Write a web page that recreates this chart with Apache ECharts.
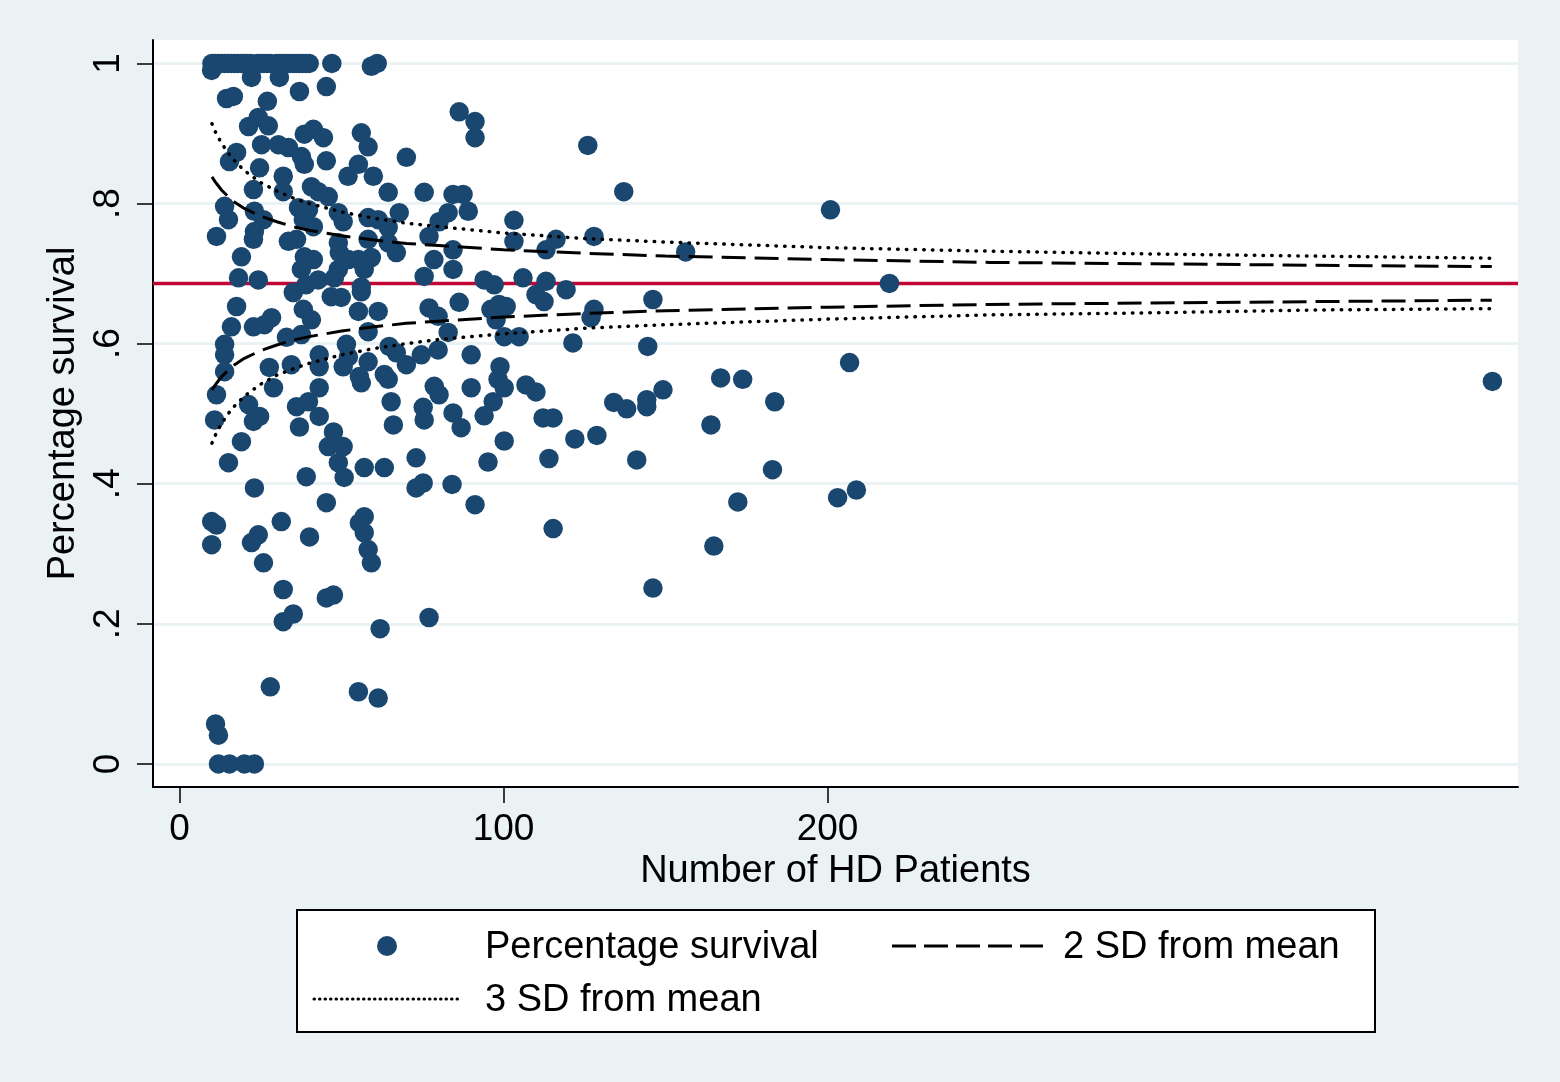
<!DOCTYPE html>
<html>
<head>
<meta charset="utf-8">
<script src="https://cdn.jsdelivr.net/npm/echarts@6/dist/echarts.min.js"></script>
<style>
html,body{margin:0;padding:0;background:#eaf2f3;}
#chart{width:1560px;height:1082px;}
</style>
</head>
<body>
<div id="chart"></div>
<script>
// ---- Data ----
const patientsN = [
10,11,12,13,14,15,16,17,18,19,20,21,22,24,25,26,27,28,30,31,32,33,34,35,36,37,38,39,40,47,61,
9.9,22.2,30.8,59.2,
16.6,14.5,27.1,37,45.3,
21.3,24.3,27.4,38.5,41.3,44.4,
25.3,30.5,33.6,56.1,58.2,70,
15.4,17.6,24.7,37.6,38.5,45.3,55.2,
52,59.8,64.4,75.5,22.8,32,32,
40.7,42.8,45.9,36.7,39.8,49,
13.9,15.1,23.1,25.9,38.2,41.3,
58.2,61.3,67.8,64.4,50.5,
11.4,22.8,23.1,33.6,36.1,38.5,41.3,
19.1,49,49.3,52.1,58.2,59.2,64.4,66.9,
37.6,49,55.2,57,77,78.5,
18.2,24.3,42.8,47.8,56.1,75.5,
35.1,38.2,40.7,39,
46.8,49.9,56.1,55.2,61.3,77,
17.6,16,22.8,26.2,28.4,33,37.6,
13.9,13.9,13.9,27.7,29,34.5,
43.1,43.1,51.5,52.1,50.5,58.2,58.2,
55.5,56.1,63.2,64.4,66.9,70,74.6,64.7,
11.4,21.3,24.7,22.8,10.8,19.1,15.1,
36.1,37,39.8,43.1,43.1,47.5,45.9,50.5,
49,50.8,57,63.2,39.1,23.1,45.3,
9.9,11.4,31.4,57,55.5,
75.2,75.5,73,73,75.2,65.3,66,
9.9,22.2,24.3,40.1,25.9,57,58.2,59.2,
32,45.3,47.5,32,35.1,61.9,77,
28,55.2,61.3,11.1,12,12,15.4,20,23.1,
86.3,91.2,91.2,126,137.1,
84.4,87.5,89.1,82.9,80.1,
103.2,103.2,116.2,113.1,127.9,156.2,
84.4,84.4,94,97.1,106,113.1,
110,112.5,119.3,146.1,86.3,79.8,
96.1,98.6,100.8,97.7,127.9,127,
82.9,100.2,104.8,121.4,144.5,
79.8,90,98.9,98.3,100.2,78.6,80.1,90,
106.9,110,96.8,94,84.4,86.9,112.2,115.3,
134,138,144.2,144.2,149.2,122,128.8,100.2,
114,95.2,141.1,84.1,91.2,115.3,146.1,
167,173.8,164,164.9,172.3,183.7,183,
200.9,219.1,206.8,203.1,208.9,405.2
];
const survival = [
1,1,1,1,1,1,1,1,1,1,1,1,1,1,1,1,1,1,1,1,1,1,1,1,1,1,1,1,1,1,1,
0.99,0.98,0.98,0.996,
0.953,0.95,0.946,0.96,0.967,
0.91,0.923,0.911,0.899,0.906,0.894,
0.884,0.884,0.88,0.901,0.881,0.866,
0.86,0.873,0.851,0.867,0.856,0.861,0.856,
0.839,0.839,0.816,0.816,0.82,0.839,0.817,
0.824,0.817,0.81,0.794,0.791,0.787,
0.796,0.777,0.789,0.777,0.777,0.767,
0.78,0.777,0.787,0.766,0.774,
0.753,0.749,0.76,0.746,0.749,0.724,0.72,
0.724,0.744,0.73,0.72,0.749,0.723,0.744,0.73,
0.706,0.706,0.72,0.706,0.753,0.72,
0.694,0.691,0.691,0.694,0.681,0.696,
0.673,0.649,0.634,0.684,
0.667,0.666,0.674,0.646,0.646,0.651,
0.653,0.624,0.624,0.627,0.637,0.609,0.613,
0.599,0.584,0.56,0.566,0.537,0.57,
0.584,0.567,0.599,0.581,0.567,0.617,0.574,
0.553,0.544,0.556,0.549,0.587,0.57,0.584,0.596,
0.527,0.513,0.496,0.489,0.491,0.46,0.43,
0.51,0.481,0.517,0.537,0.496,0.474,0.453,0.453,
0.43,0.409,0.423,0.423,0.41,0.394,0.373,
0.346,0.341,0.346,0.353,0.344,
0.509,0.491,0.437,0.394,0.401,0.517,0.484,
0.313,0.316,0.327,0.324,0.287,0.33,0.306,0.287,
0.249,0.237,0.241,0.203,0.214,0.193,0.209,
0.11,0.103,0.094,0.057,0.041,0,0,0,0,
0.931,0.917,0.894,0.883,0.817,
0.813,0.813,0.789,0.787,0.774,
0.776,0.746,0.749,0.734,0.753,0.731,
0.734,0.706,0.691,0.684,0.694,0.689,
0.67,0.66,0.677,0.663,0.659,0.639,
0.649,0.656,0.653,0.634,0.649,0.637,
0.616,0.61,0.61,0.601,0.596,
0.591,0.584,0.567,0.549,0.537,0.539,0.527,0.537,
0.541,0.531,0.517,0.497,0.501,0.48,0.494,0.494,
0.516,0.507,0.52,0.51,0.534,0.464,0.469,0.461,
0.436,0.431,0.434,0.399,0.37,0.336,0.251,
0.551,0.549,0.484,0.311,0.374,0.517,0.42,
0.791,0.686,0.573,0.38,0.391,0.546
];
const meanSurvival = 0.686;
const funnelN =   [10,   11,   12,   13,   15,   17,   20,   25,   30,   35,   40,   50,   60,   70,   80,   100,  125,  150,  200,  250,  300,  350,  405];
const upper2SD =  [0.838,0.831,0.825,0.819,0.810,0.802,0.793,0.782,0.774,0.767,0.762,0.754,0.748,0.743,0.740,0.734,0.729,0.725,0.720,0.716,0.714,0.712,0.710];
const lower2SD =  [0.534,0.541,0.547,0.553,0.562,0.570,0.579,0.590,0.598,0.605,0.610,0.618,0.624,0.629,0.632,0.638,0.643,0.647,0.652,0.656,0.658,0.660,0.662];
const upper3SD =  [0.914,0.903,0.894,0.886,0.872,0.861,0.847,0.830,0.818,0.808,0.800,0.788,0.779,0.772,0.767,0.758,0.750,0.745,0.737,0.732,0.728,0.725,0.722];
const lower3SD =  [0.458,0.469,0.478,0.486,0.500,0.511,0.525,0.542,0.555,0.564,0.572,0.584,0.593,0.600,0.606,0.614,0.622,0.627,0.635,0.641,0.644,0.648,0.650];
const xTicks = [0, 100, 200];
const yTicks = [0, 0.2, 0.4, 0.6, 0.8, 1];
const yTickLabels = {0:'0', 0.2:'.2', 0.4:'.4', 0.6:'.6', 0.8:'.8', 1:'1'};
const xRange = [-8.2, 413.1];
const yRange = [-0.033, 1.0335];

// ---- Chart ----
const FONT = '"Liberation Sans", Arial, Helvetica, sans-serif';
const NAVY = '#1a476f';
const RED = '#c10534';
const zip = (a, b) => a.map((v, i) => [v, b[i]]);

const chart = echarts.init(document.getElementById('chart'), null, {renderer: 'canvas'});
chart.setOption({
  backgroundColor: '#eaf2f3',
  animation: false,
  grid: {left: 153, right: 42, top: 40, bottom: 295, show: true, backgroundColor: '#ffffff', borderWidth: 0},
  xAxis: {
    type: 'value', min: xRange[0], max: xRange[1],
    name: 'Number of HD Patients', nameLocation: 'middle', nameGap: 62,
    nameTextStyle: {fontFamily: FONT, fontSize: 38, color: '#000'},
    axisLine: {onZero: false, lineStyle: {color: '#000', width: 2}},
    axisTick: {show: true, length: 16, lineStyle: {color: '#000', width: 1.5}, customValues: xTicks},
    axisLabel: {customValues: xTicks, fontFamily: FONT, fontSize: 37, color: '#000', margin: 24},
    splitLine: {show: false}
  },
  yAxis: {
    type: 'value', min: yRange[0], max: yRange[1],
    name: 'Percentage survival', nameLocation: 'middle', nameGap: 68, nameRotate: 90,
    nameTextStyle: {fontFamily: FONT, fontSize: 38, color: '#000'},
    axisLine: {onZero: false, lineStyle: {color: '#000', width: 2}},
    axisTick: {show: true, length: 16, lineStyle: {color: '#000', width: 1.5}, customValues: yTicks},
    axisLabel: {customValues: yTicks, rotate: 90, fontFamily: FONT, fontSize: 37, color: '#000', margin: 26,
      formatter: v => yTickLabels[Math.round(v * 10) / 10] ?? ''},
    splitLine: {show: true, lineStyle: {color: '#eaf2f3', width: 3}}
  },
  series: [
    {
      name: 'Mean', type: 'line', z: 1, symbol: 'none', silent: true,
      data: [[xRange[0], meanSurvival], [xRange[1], meanSurvival]],
      lineStyle: {color: RED, width: 3.5}
    },
    {
      name: 'Percentage survival', type: 'scatter', z: 2,
      data: zip(patientsN, survival), symbol: 'circle', symbolSize: 19.5,
      itemStyle: {color: NAVY, opacity: 1}
    },
    {
      name: '2 SD from mean', type: 'line', z: 3, symbol: 'none',
      data: zip(funnelN, upper2SD), lineStyle: {color: '#000', width: 3, type: [24, 9]}
    },
    {
      name: '2 SD lower', type: 'line', z: 3, symbol: 'none',
      data: zip(funnelN, lower2SD), lineStyle: {color: '#000', width: 3, type: [24, 9]}
    },
    {
      name: '3 SD from mean', type: 'line', z: 3, symbol: 'none',
      data: zip(funnelN, upper3SD), lineStyle: {color: '#000', width: 3.5, type: [0.5, 8.2], cap: 'round'}
    },
    {
      name: '3 SD lower', type: 'line', z: 3, symbol: 'none',
      data: zip(funnelN, lower3SD), lineStyle: {color: '#000', width: 3.5, type: [0.5, 8.2], cap: 'round'}
    }
  ],
  graphic: [
    {type: 'rect', shape: {x: 297, y: 910, width: 1078, height: 122},
     style: {fill: '#ffffff', stroke: '#000', lineWidth: 2}},
    {type: 'circle', shape: {cx: 387, cy: 946, r: 10}, style: {fill: NAVY}},
    {type: 'text', x: 485, y: 948, style: {text: 'Percentage survival', font: '38px ' + FONT, fill: '#000', verticalAlign: 'middle'}},
    {type: 'line', shape: {x1: 892, y1: 946, x2: 1043, y2: 946}, style: {stroke: '#000', lineWidth: 3, lineDash: [24, 8]}},
    {type: 'text', x: 1063, y: 948, style: {text: '2 SD from mean', font: '38px ' + FONT, fill: '#000', verticalAlign: 'middle'}},
    {type: 'line', shape: {x1: 314, y1: 999, x2: 461, y2: 999}, style: {stroke: '#000', lineWidth: 3, lineDash: [0.5, 5], lineCap: 'round'}},
    {type: 'text', x: 485, y: 1001, style: {text: '3 SD from mean', font: '38px ' + FONT, fill: '#000', verticalAlign: 'middle'}}
  ]
});
</script>
</body>
</html>
